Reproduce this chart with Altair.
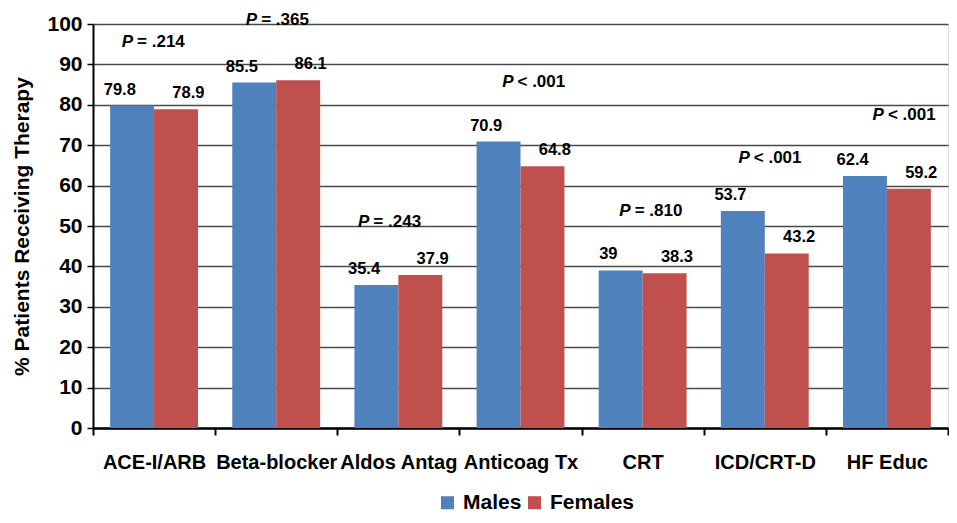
import altair as alt
import pandas as pd

categories = ["ACE-I/ARB", "Beta-blocker", "Aldos Antag", "Anticoag Tx", "CRT", "ICD/CRT-D", "HF Educ"]
males = [79.8, 85.5, 35.4, 70.9, 39.0, 53.7, 62.4]
females = [78.9, 86.1, 37.9, 64.8, 38.3, 43.2, 59.2]
male_labels = ["79.8", "85.5", "35.4", "70.9", "39", "53.7", "62.4"]
female_labels = ["78.9", "86.1", "37.9", "64.8", "38.3", "43.2", "59.2"]
p_texts = ["= .214", "= .365", "= .243", "< .001", "= .810", "< .001", "< .001"]
# annotation placement (value level and pixel shift from category centre)
p_levels = [95.5, 101.0, 51.0, 85.6, 53.7, 66.8, 77.5]
p_shift = [0, 2, -8, 14, 9, 6, 18]

FONT = "Liberation Sans"
BLUE = "#4F81BD"
RED = "#C0504D"
W = 855
H = 404
HALF_STEP = W / len(categories) / 2

rows = []
for i, c in enumerate(categories):
    rows.append({"cat": c, "sex": "Males", "val": males[i], "lab": male_labels[i]})
    rows.append({"cat": c, "sex": "Females", "val": females[i], "lab": female_labels[i]})
df = pd.DataFrame(rows)

pdf = pd.DataFrame({
    "cat": categories,
    "ptext": p_texts,
    "plevel": p_levels,
    "pshift_left": [HALF_STEP + s - 21 for s in p_shift],
    "pshift_right": [HALF_STEP + s - 17 for s in p_shift],
})

x_enc = alt.X(
    "cat:N",
    sort=categories,
    title=None,
    scale=alt.Scale(paddingInner=0, paddingOuter=0),
    axis=alt.Axis(
        labelFont=FONT, labelFontSize=20, labelFontWeight="bold", labelColor="black",
        labelPadding=17, labelAngle=0, labelLimit=200,
        domainColor="black", domainWidth=2.5,
        tickBand="extent", tickColor="black", tickWidth=2, tickSize=7,
        grid=False,
    ),
)
y_scale = alt.Scale(domain=[0, 100], nice=False, clamp=False)
y_enc = alt.Y(
    "val:Q",
    scale=y_scale,
    title="% Patients Receiving Therapy",
    axis=alt.Axis(
        values=list(range(0, 101, 10)),
        labelFont=FONT, labelFontSize=21, labelFontWeight="bold", labelColor="black",
        labelPadding=5,
        titleFont=FONT, titleFontSize=21, titleFontWeight="bold", titleColor="black",
        titlePadding=14,
        domainColor="black", domainWidth=2,
        tickColor="black", tickWidth=1.5, tickSize=6,
        grid=True, gridColor="#4a4a4a", gridWidth=1.6,
    ),
)

color_enc = alt.Color(
    "sex:N",
    scale=alt.Scale(domain=["Males", "Females"], range=[BLUE, RED]),
    legend=alt.Legend(
        title=None, orient="none", direction="horizontal",
        legendX=344, legendY=468,
        labelFont=FONT, labelFontSize=21, labelFontWeight="bold", labelColor="black",
        symbolType="square", symbolSize=170, symbolStrokeWidth=0,
        columnPadding=2, labelOffset=5,
    ),
)
xoff = alt.XOffset("sex:N", sort=["Males", "Females"],
                   scale=alt.Scale(paddingInner=0, paddingOuter=0.39))

bars = alt.Chart(df).mark_bar().encode(
    x=x_enc, y=y_enc, color=color_enc, xOffset=xoff,
)

vlabels = alt.Chart(df).mark_text(
    font=FONT, fontSize=16.5, fontWeight="bold", color="black",
    baseline="alphabetic", dy=-11,
).encode(
    x=alt.X("cat:N", sort=categories),
    y=alt.Y("val:Q", scale=y_scale),
    xOffset=xoff,
    text="lab:N",
)

p_italic = alt.Chart(pdf).mark_text(
    font=FONT, fontSize=17, fontWeight="bold", fontStyle="italic", color="black",
    align="right", baseline="middle",
).encode(
    x=alt.X("cat:N", sort=categories),
    y=alt.Y("plevel:Q", scale=y_scale),
    xOffset=alt.XOffset("pshift_left:Q", scale=None),
    text=alt.value("P"),
)

p_rest = alt.Chart(pdf).mark_text(
    font=FONT, fontSize=17, fontWeight="bold", color="black",
    align="left", baseline="middle",
).encode(
    x=alt.X("cat:N", sort=categories),
    y=alt.Y("plevel:Q", scale=y_scale),
    xOffset=alt.XOffset("pshift_right:Q", scale=None),
    text="ptext:N",
)

chart = alt.layer(bars, vlabels, p_italic, p_rest).resolve_scale(
    xOffset="independent"
).properties(
    width=W, height=H,
    autosize=alt.AutoSizeParams(type="none"),
    padding={"left": 85, "top": 16, "right": 1, "bottom": 86},
).configure_view(stroke=None).configure(background="white")

chart.save("out.html", embed_options={"renderer": "svg", "actions": False})
